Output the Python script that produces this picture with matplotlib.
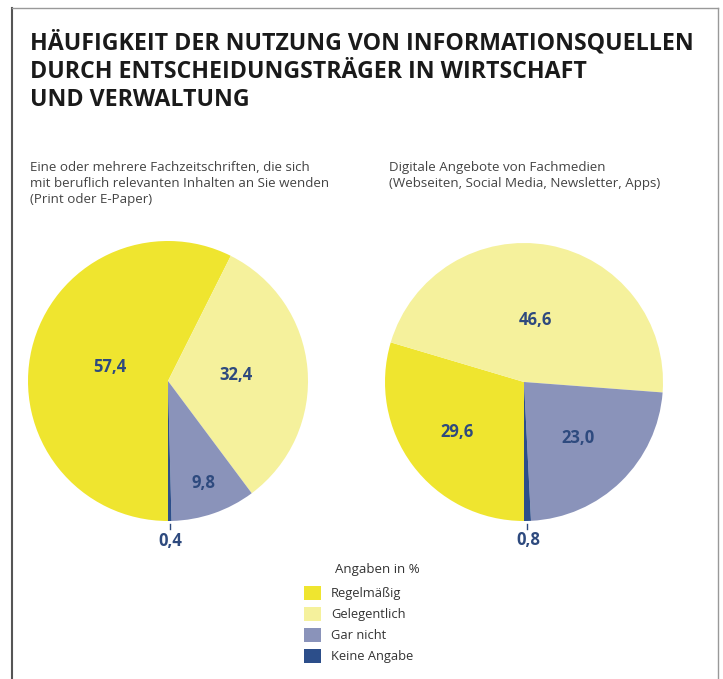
import numpy as np
import matplotlib.pyplot as plt
from matplotlib.patches import Patch
from matplotlib.lines import Line2D

# Daten
kategorien = ['Regelmäßig', 'Gelegentlich', 'Gar nicht', 'Keine Angabe']
farben = ['#EFE52F', '#F5F19C', '#8A93BA', '#2C4E8A']
print_werte = [57.4, 32.4, 9.8, 0.4]
digital_werte = [29.6, 46.6, 23.0, 0.8]
print_labels = ['57,4', '32,4', '9,8', '0,4']
digital_labels = ['29,6', '46,6', '23,0', '0,8']

titel = ('HÄUFIGKEIT DER NUTZUNG VON INFORMATIONSQUELLEN\n'
         'DURCH ENTSCHEIDUNGSTRÄGER IN WIRTSCHAFT\n'
         'UND VERWALTUNG')
untertitel_links = ('Eine oder mehrere Fachzeitschriften, die sich\n'
                    'mit beruflich relevanten Inhalten an Sie wenden\n'
                    '(Print oder E-Paper)')
untertitel_rechts = ('Digitale Angebote von Fachmedien\n'
                     '(Webseiten, Social Media, Newsletter, Apps)')

plt.rcParams['font.family'] = ['Open Sans', 'DejaVu Sans']
label_farbe = '#2E4A7E'

fig = plt.figure(figsize=(7.23, 6.79), dpi=100)

# Rahmen
fig.add_artist(Line2D([12/723, 12/723], [0, 1 - 8/679], transform=fig.transFigure,
                      color='#555555', lw=1.5))
fig.add_artist(Line2D([12/723, 718/723], [1 - 8/679, 1 - 8/679], transform=fig.transFigure,
                      color='#999999', lw=1))
fig.add_artist(Line2D([718/723, 718/723], [0, 1 - 8/679], transform=fig.transFigure,
                      color='#999999', lw=1))

fig.text(30/723, 1 - 31/679, titel, fontsize=16.7, fontweight='bold', color='#1a1a1a',
         va='top', ha='left', linespacing=1.25)
fig.text(30/723, 1 - 161/679, untertitel_links, fontsize=9.6, color='#444444',
         va='top', ha='left', linespacing=1.3)
fig.text(389/723, 1 - 161/679, untertitel_rechts, fontsize=9.6, color='#444444',
         va='top', ha='left', linespacing=1.3)


def torte(rect, werte, labels, abstaende):
    ax = fig.add_axes(rect)
    wedges, _ = ax.pie(werte, colors=farben, startangle=270, counterclock=False,
                       wedgeprops=dict(linewidth=0))
    ax.set_aspect('equal')
    for w, lab, r in zip(wedges, labels, abstaende):
        mitte = np.deg2rad((w.theta1 + w.theta2) / 2)
        ax.text(r * np.cos(mitte), r * np.sin(mitte), lab, ha='center', va='center',
                fontsize=12, fontweight='bold', color=label_farbe)
        if r > 1:
            ax.plot([1.0 * np.cos(mitte)] * 2, [-1.02, -1.06], color=label_farbe,
                    lw=1, clip_on=False)
    ax.set_xlim(-1, 1)
    ax.set_ylim(-1, 1)
    ax.axis('off')
    return wedges


torte([28/723, (679 - 381 - 140)/679, 280/723, 280/679], print_werte, print_labels,
      [0.43, 0.49, 0.77, 1.14])
torte([385/723, (679 - 382 - 139)/679, 278/723, 278/679], digital_werte, digital_labels,
      [0.6, 0.45, 0.56, 1.14])

fig.text(335/723, 1 - 570/679, 'Angaben in %', fontsize=9.5, color='#333333',
         va='center', ha='left')
handles = [Patch(facecolor=f, edgecolor='none') for f in farben]
fig.legend(handles, kategorien, loc='upper left', bbox_to_anchor=(292/723, 1 - 574/679),
           frameon=False, fontsize=9.3, handlelength=1.35, handleheight=1.35,
           handletextpad=0.75, labelspacing=0.5, labelcolor='#333333')

fig.savefig('out.png', dpi=100, facecolor='white')
